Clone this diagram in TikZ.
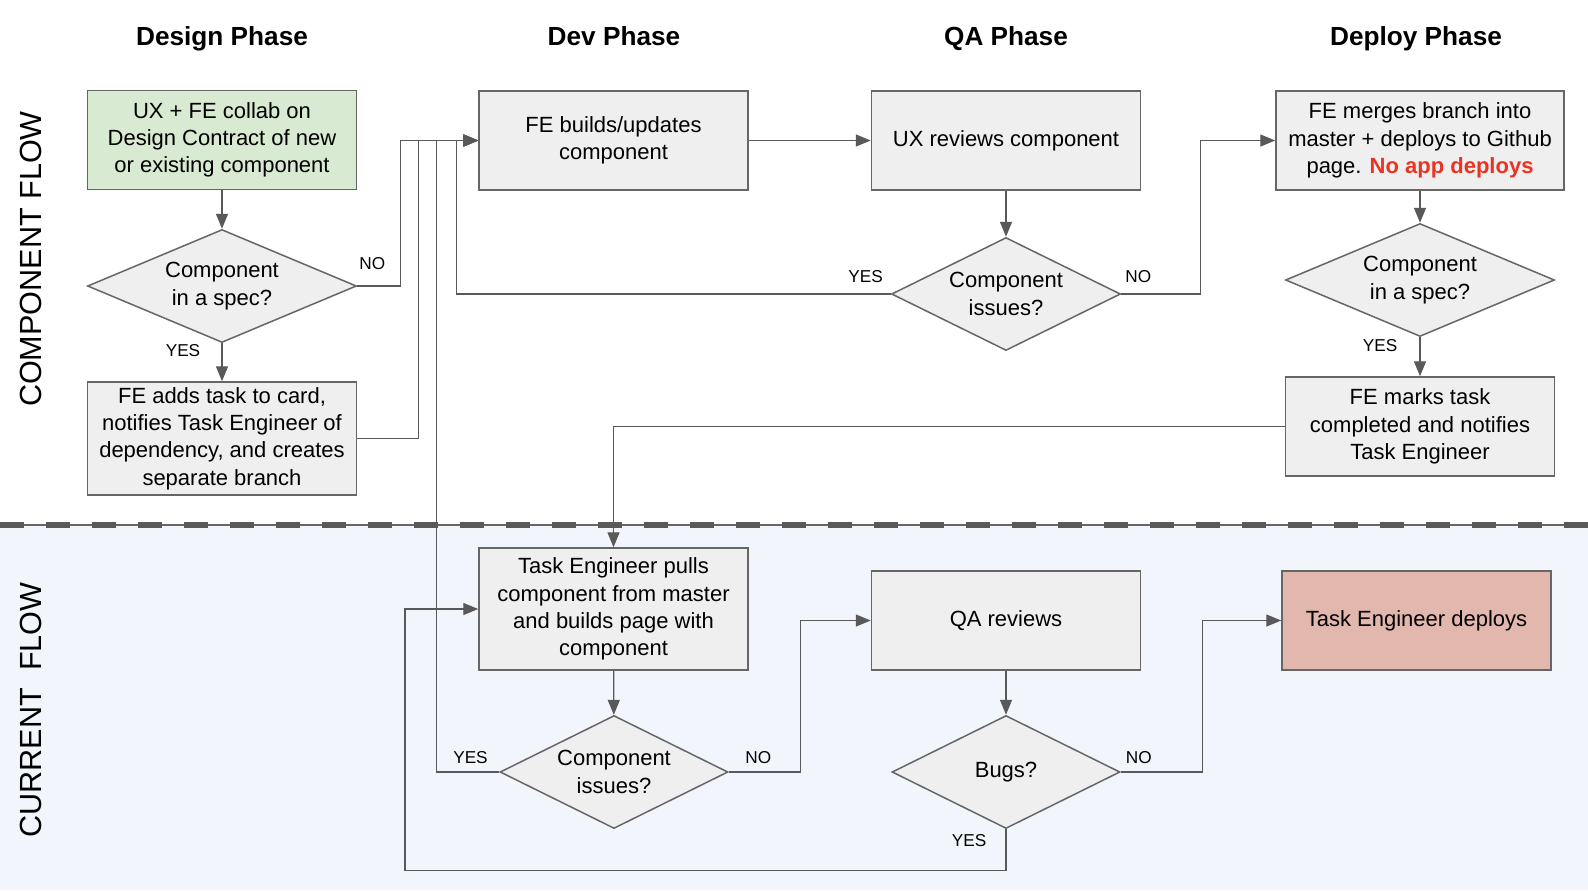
\documentclass[tikz,border=0pt]{standalone}
\usepackage{fontspec}
\setmainfont{Liberation Sans}
\usetikzlibrary{arrows.meta,positioning,shapes.geometric}
\definecolor{linegray}{HTML}{595959}
\definecolor{edgegray}{HTML}{666666}
\definecolor{boxgray}{HTML}{EFEFEF}
\definecolor{designgreen}{HTML}{D9EAD3}
\definecolor{deployred}{HTML}{E2B8AE}
\definecolor{laneblue}{HTML}{F2F6FC}
\definecolor{warnred}{HTML}{EA3323}
\begin{document}
\begin{tikzpicture}[
  x=0.5pt, y=-0.5pt,
  box/.style={draw=edgegray, fill=boxgray, line width=0.75pt, align=center,
    minimum width=134.5pt, minimum height=49.5pt, inner sep=2pt,
    font=\fontsize{11}{13.65}\selectfont},
  decision/.style={diamond, aspect=2.4, draw=edgegray, fill=boxgray, line width=0.75pt,
    align=center, minimum width=134.5pt, minimum height=56.5pt, inner sep=0pt,
    font=\fontsize{11}{13.65}\selectfont},
  phase/.style={anchor=base, font=\fontsize{13.1}{15}\selectfont\bfseries},
  lane/.style={rotate=90, font=\fontsize{15.3}{18}\selectfont},
  lbl/.style={font=\fontsize{8.6}{10}\selectfont, inner sep=0pt},
  flow/.style={draw=linegray, line width=0.7pt, -{Triangle[length=7.5pt, width=6pt]}}
]
\useasboundingbox (0,0) rectangle (1588,890);
\fill[white] (0,0) rectangle (1588,890);
\fill[laneblue] (0,525) rectangle (1588,890);
\draw[edgegray, line width=0.6pt] (0,525) -- (1588,525);
\draw[linegray, line width=2.8pt, dash pattern=on 12pt off 11pt] (0,525) -- (1588,525);

\node[phase] (designhead) at (222,45) {Design Phase};
\node[phase] (devhead) at (614,45) {Dev Phase};
\node[phase] (qahead) at (1006,45) {QA Phase};
\node[phase] (deployhead) at (1416,45) {Deploy Phase};
\node[lane] (complane) at (31,259) {COMPONENT FLOW};
\node[lane] (curlane) at (31,710) {CURRENT\ \ FLOW};

\node[box, fill=designgreen] (collab) at (222,140) {UX + FE collab on\\Design Contract of new\\or existing component};
\node[decision] (specone) at (222,286) {Component\\in a spec?};
\node[box, minimum height=56.5pt] (addtask) at (222,438.5) {FE adds task to card,\\notifies Task Engineer of\\dependency, and creates\\separate branch};
\node[box] (build) at (613.5,140.5) {FE builds/updates\\component};
\node[box] (uxreview) at (1006,140.5) {UX reviews component};
\node[decision, aspect=2, minimum width=114.5pt] (uxissues) at (1006,294) {Component\\issues?};
\node[box, minimum width=144pt] (merge) at (1420,140.5) {FE merges branch into\\master + deploys to Github\\page. \textcolor{warnred}{\bfseries No app deploys}};
\node[decision] (spectwo) at (1420,280) {Component\\in a spec?};
\node[box] (marks) at (1420,426.5) {FE marks task\\completed and notifies\\Task Engineer};
\node[box, minimum height=61pt] (pull) at (613.5,609) {Task Engineer pulls\\component from master\\and builds page with\\component};
\node[box] (qareview) at (1006,620.5) {QA reviews};
\node[box, fill=deployred] (tedeploy) at (1416.5,620.5) {Task Engineer deploys};
\node[decision, aspect=2, minimum width=114pt] (devissues) at (614,772) {Component\\issues?};
\node[decision, aspect=2, minimum width=114pt] (bugs) at (1006,772) {Bugs?};

\draw[flow] (collab) -- (specone);
\draw[flow] (specone) -- node[lbl, pos=0.18, xshift=-19.5pt]{YES} (addtask);
\draw[flow] (specone.east) -- node[lbl, pos=0.35, yshift=11pt]{NO} ++(43,0) |- (build.west);
\draw[flow] (addtask.east) -- ++(61,0) |- (build.west);
\draw[flow] (uxissues.west) -- node[lbl, pos=0.058, yshift=8.75pt]{YES} ++(-434,0) |- (build.west);
\draw[flow] (devissues.west) -- node[lbl, pos=0.46, yshift=7.25pt]{YES} ++(-62.5,0) |- (build.west);
\draw[flow] (build) -- (uxreview);
\draw[flow] (uxreview) -- (uxissues);
\draw[flow] (uxissues.east) -- node[lbl, pos=0.215, yshift=8.75pt]{NO} ++(79,0) |- (merge.west);
\draw[flow] (merge) -- (spectwo);
\draw[flow] (spectwo) -- node[lbl, pos=0.22, xshift=-20pt]{YES} (marks);
\draw[flow] (marks.west) -| (pull.north);
\draw[flow] (pull) -- (devissues);
\draw[flow] (devissues.east) -- node[lbl, pos=0.41, yshift=7.25pt]{NO} ++(72,0) |- (qareview.west);
\draw[flow] (qareview) -- (bugs);
\draw[flow] (bugs.east) -- node[lbl, pos=0.22, yshift=7.25pt]{NO} ++(82,0) |- (tedeploy.west);
\draw[flow] (bugs.south) -- node[lbl, pos=0.28, xshift=-18.5pt]{YES} ++(0,41) -- ++(-601,0) |- (pull.west);
\end{tikzpicture}
\end{document}
